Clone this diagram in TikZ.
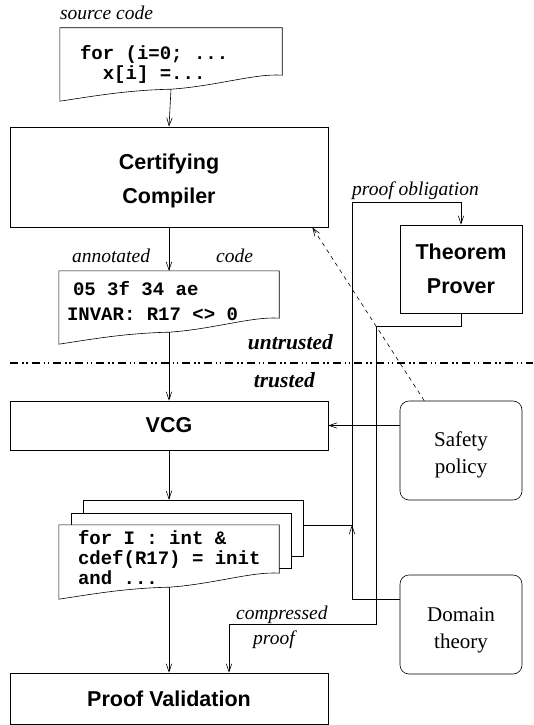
\documentclass[tikz,border=0pt]{standalone}
\usepackage{fontspec}
\setmainfont{Liberation Serif}
\setsansfont{Liberation Sans}
\setmonofont{Liberation Mono}
\usetikzlibrary{positioning,calc,arrows.meta}
\pgfdeclarelayer{paper}
\pgfsetlayers{paper,main}
\tikzset{
    box/.style = {draw, line width=0.6pt, rectangle, inner sep=0pt, align=center, font=\sffamily\bfseries\fontsize{21.5}{34}\selectfont},
    roundbox/.style = {draw, line width=0.6pt, rectangle, rounded corners=9pt, inner sep=0pt, align=center, minimum width=122pt, minimum height=99pt, font=\fontsize{21}{27.5}\selectfont},
    doc/.style = {rectangle, inner ysep=0pt, inner xsep=20pt, font=\ttfamily\bfseries\fontsize{19}{20}\selectfont},
    sheetbox/.style = {rectangle, inner sep=0pt, minimum width=220pt},
    sheet/.style = {draw, fill=white, line width=0.6pt},
    lbl/.style = {inner sep=0pt, font=\itshape\fontsize{19.5}{24}\selectfont},
    zone/.style = {inner sep=0pt, font=\bfseries\itshape\fontsize{21.5}{24}\selectfont},
    arr/.style = {-{Straight Barb[length=8pt,width=5.5pt]}, line width=0.6pt},
    border/.style = {line width=1.8pt, dash pattern=on 8pt off 4pt on 1.5pt off 2.5pt on 1.5pt off 4pt},
}
% page with a wavy lower edge, drawn round a node
\newcommand{\docframe}[1]{%
  \draw[sheet] (#1.north west) -- (#1.north east) -- ($(#1.south east)+(0pt,14pt)$)
    .. controls ($(#1.south east)!0.12!(#1.south west)+(0pt,16pt)$)
            and ($(#1.south east)!0.3!(#1.south west)+(0pt,3pt)$) .. (#1.south)
    .. controls ($(#1.south east)!0.7!(#1.south west)+(0pt,-1pt)$)
            and ($(#1.south east)!0.85!(#1.south west)+(0pt,-7pt)$) .. ($(#1.south west)+(0pt,-12pt)$)
    -- cycle;}
\newcommand{\codeline}[1]{\hbox to\hsize{\strut#1\hss}}

\begin{document}
\begin{tikzpicture}[x=1pt, y=-1pt]
\useasboundingbox (0,0) rectangle (533,725);

% untrusted side
\node[doc, minimum width=222pt] (src) at (171,58.5) {\parbox[c][61pt][t]{182pt}{\vspace*{17pt}\codeline{for (i=0; ...}\codeline{\phantom{xx}x[i] =...}}};
\node[lbl, anchor=base west] (srclbl) at ([yshift=8pt]src.north west) {source code};
\node[box, minimum width=318pt, minimum height=100pt] (compiler) at (169,177) {\rule{0pt}{24pt}Certifying\\Compiler};
\node[doc, minimum width=220pt, inner xsep=8pt, font=\ttfamily\bfseries\fontsize{19}{25}\selectfont] (annot) at (169,301.5) {\parbox[c][61pt][t]{204pt}{\vspace*{6.5pt}\codeline{\hspace*{6pt}05 3f 34 ae}\codeline{INVAR: R17 <> 0}}};
\node[lbl, anchor=base west] (annlbl) at ([xshift=13pt,yshift=8pt]annot.north west) {annotated};
\node[lbl, anchor=base east] (codelbl) at ([xshift=-26pt,yshift=8pt]annot.north east) {code};
\node[box, minimum width=122pt, minimum height=88pt] (prover) at (461,269) {Theorem\\Prover};

% trust boundary
\coordinate (sepL) at (10,363);
\coordinate (sepR) at (533,363);
\coordinate (sepmid) at (333,363);
\draw[border] (sepL) -- (sepR);
\node[zone, above left=13pt and 0pt of sepmid] (untr) {untrusted};
\node[zone, below left=9pt and 18pt of sepmid] (tr) {trusted};

% trusted side
\node[box, minimum width=318pt, minimum height=49pt] (vcg) at (169,425.5) {VCG};
\node[roundbox] (safety) at (461,450.5) {\rule{0pt}{23.5pt}Safety\\policy};
\node[sheetbox, minimum height=56pt] (stackback) at (193,528) {};
\node[sheetbox, minimum height=55pt] (stackmid) at (181,540.5) {};
\node[doc, minimum width=220pt, inner xsep=19pt, font=\ttfamily\bfseries\fontsize{19}{18.5}\selectfont] (stack) at (169,556) {\parbox[c][62pt][t]{182pt}{\vspace*{5pt}\codeline{for I : int \&}\codeline{cdef(R17) = init}\codeline{and ...}}};
\node[roundbox] (domain) at (461,624.5) {\rule{0pt}{26pt}Domain\\theory};
\node[box, minimum width=318pt, minimum height=51pt] (valid) at (169,698.5) {Proof Validation};

\begin{pgfonlayer}{paper}
  \docframe{src}
  \docframe{annot}
  \draw[sheet] (stackback.north west) rectangle (stackback.south east);
  \draw[sheet] (stackmid.north west) rectangle (stackmid.south east);
  \docframe{stack}
\end{pgfonlayer}

% main flow
\draw[arr] (src.south) -- (compiler.north);
\draw[arr] (compiler.south) -- (annot.north);
\draw[arr] (annot.south) -- (vcg.north);
\draw[arr] (vcg.south) -- (vcg.south |- stackback.north);
\draw[arr] (stack.south) -- (valid.north);
\draw[arr] (safety.west |- vcg.east) -- (vcg.east);
\draw[arr, dash pattern=on 4pt off 4pt] ($(safety.north west)!0.2!(safety.north east)$) -- ([xshift=-16pt]compiler.south east);

% proof obligation and proof
\coordinate (jn) at (352,525);
\coordinate (obtop) at (352,202);
\coordinate (dmbend) at (352,599);
\coordinate (cpbend) at (376,624);
\draw[arr] (stackback.east |- jn) -- (jn) -- (obtop) -| (prover.north);
\node[lbl, anchor=base west] (obllbl) at ([yshift=7pt]obtop) {proof obligation};
\draw[arr] (domain.west |- dmbend) -- (dmbend) -- (jn);
\draw[arr] (prover.south) -- ++(0,13) -| (cpbend) -| ([xshift=60pt]valid.north);
\node[lbl, anchor=base west] (cmplbl) at ([xshift=-140pt,yshift=5pt]cpbend) {compressed};
\node[lbl, anchor=base west] (prflbl) at ([xshift=-123pt,yshift=-20pt]cpbend) {proof};
\end{tikzpicture}
\end{document}
